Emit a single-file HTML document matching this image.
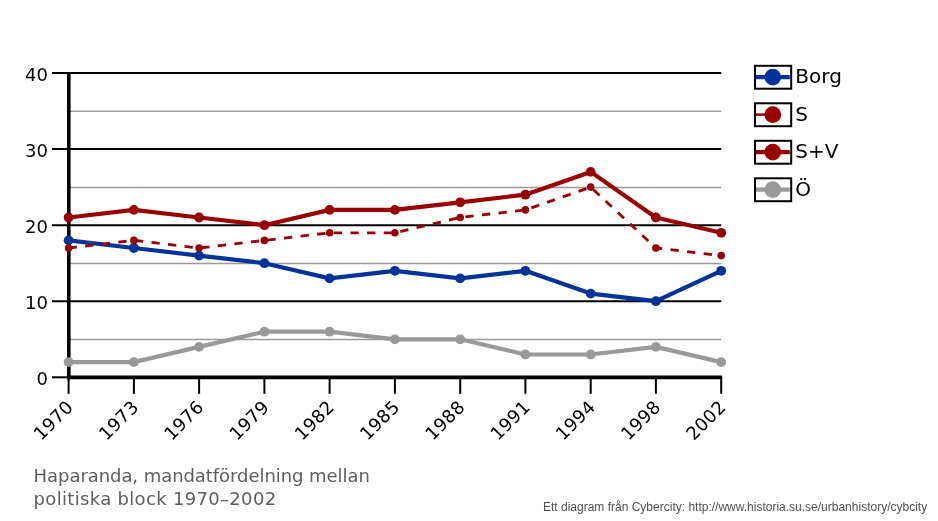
<!DOCTYPE html>
<html lang="sv"><head><meta charset="utf-8"><title>Haparanda, mandatfördelning mellan politiska block 1970–2002</title>
<style>
html,body{margin:0;padding:0;background:#fff;}
body{width:938px;height:521px;overflow:hidden;position:relative;}
svg{position:absolute;left:0;top:0;display:block;}
.ax{font-family:"DejaVu Sans","Liberation Sans",sans-serif;font-size:18px;fill:#000;}
.xl{letter-spacing:0.3px;}
.lg{font-family:"DejaVu Sans","Liberation Sans",sans-serif;font-size:20px;fill:#000;}
.ti{font-family:"DejaVu Sans","Liberation Sans",sans-serif;font-size:18px;fill:#5e5e60;}
.ft{font-family:"Liberation Sans",sans-serif;font-size:12px;fill:#505054;}
</style></head><body>
<svg width="938" height="521" viewBox="0 0 938 521">
<rect width="938" height="521" fill="#fff"/>

<line x1="68.6" y1="339.6" x2="721.2" y2="339.6" stroke="#999" stroke-width="1.5"/>
<line x1="68.6" y1="263.5" x2="721.2" y2="263.5" stroke="#999" stroke-width="1.5"/>
<line x1="68.6" y1="187.4" x2="721.2" y2="187.4" stroke="#999" stroke-width="1.5"/>
<line x1="68.6" y1="111.3" x2="721.2" y2="111.3" stroke="#999" stroke-width="1.5"/>
<line x1="52" y1="301.2" x2="721.2" y2="301.2" stroke="#000" stroke-width="2"/>
<line x1="52" y1="225.2" x2="721.2" y2="225.2" stroke="#000" stroke-width="2"/>
<line x1="52" y1="149.1" x2="721.2" y2="149.1" stroke="#000" stroke-width="2"/>
<line x1="52" y1="73.0" x2="721.2" y2="73.0" stroke="#000" stroke-width="2"/>
<line x1="52" y1="377.3" x2="68.6" y2="377.3" stroke="#000" stroke-width="2"/>
<line x1="68.8" y1="72" x2="68.8" y2="379.2" stroke="#000" stroke-width="3.6"/>
<line x1="67.0" y1="377.3" x2="722.2" y2="377.3" stroke="#000" stroke-width="3.8"/>
<line x1="68.6" y1="377.3" x2="68.6" y2="393.8" stroke="#000" stroke-width="2"/>
<line x1="133.9" y1="377.3" x2="133.9" y2="393.8" stroke="#000" stroke-width="2"/>
<line x1="199.1" y1="377.3" x2="199.1" y2="393.8" stroke="#000" stroke-width="2"/>
<line x1="264.4" y1="377.3" x2="264.4" y2="393.8" stroke="#000" stroke-width="2"/>
<line x1="329.6" y1="377.3" x2="329.6" y2="393.8" stroke="#000" stroke-width="2"/>
<line x1="394.9" y1="377.3" x2="394.9" y2="393.8" stroke="#000" stroke-width="2"/>
<line x1="460.2" y1="377.3" x2="460.2" y2="393.8" stroke="#000" stroke-width="2"/>
<line x1="525.4" y1="377.3" x2="525.4" y2="393.8" stroke="#000" stroke-width="2"/>
<line x1="590.7" y1="377.3" x2="590.7" y2="393.8" stroke="#000" stroke-width="2"/>
<line x1="655.9" y1="377.3" x2="655.9" y2="393.8" stroke="#000" stroke-width="2"/>
<line x1="721.2" y1="377.3" x2="721.2" y2="393.8" stroke="#000" stroke-width="2"/>
<text class="ax" x="48" y="385.3" text-anchor="end">0</text>
<text class="ax" x="48" y="309.2" text-anchor="end">10</text>
<text class="ax" x="48" y="233.2" text-anchor="end">20</text>
<text class="ax" x="48" y="157.1" text-anchor="end">30</text>
<text class="ax" x="48" y="81.0" text-anchor="end">40</text>
<text class="ax xl" text-anchor="end" transform="translate(74.4,408.1) rotate(-45)">1970</text>
<text class="ax xl" text-anchor="end" transform="translate(139.7,408.1) rotate(-45)">1973</text>
<text class="ax xl" text-anchor="end" transform="translate(204.9,408.1) rotate(-45)">1976</text>
<text class="ax xl" text-anchor="end" transform="translate(270.2,408.1) rotate(-45)">1979</text>
<text class="ax xl" text-anchor="end" transform="translate(335.4,408.1) rotate(-45)">1982</text>
<text class="ax xl" text-anchor="end" transform="translate(400.7,408.1) rotate(-45)">1985</text>
<text class="ax xl" text-anchor="end" transform="translate(466.0,408.1) rotate(-45)">1988</text>
<text class="ax xl" text-anchor="end" transform="translate(531.2,408.1) rotate(-45)">1991</text>
<text class="ax xl" text-anchor="end" transform="translate(596.5,408.1) rotate(-45)">1994</text>
<text class="ax xl" text-anchor="end" transform="translate(661.7,408.1) rotate(-45)">1998</text>
<text class="ax xl" text-anchor="end" transform="translate(727.0,408.1) rotate(-45)">2002</text>
<polyline points="68.6,240.4 133.9,248.0 199.1,255.6 264.4,263.2 329.6,278.4 394.9,270.8 460.2,278.4 525.4,270.8 590.7,293.6 655.9,301.2 721.2,270.8" fill="none" stroke="#003399" stroke-width="4.2" stroke-linejoin="round"/>
<circle cx="68.6" cy="240.4" r="4.9" fill="#003399"/>
<circle cx="133.9" cy="248.0" r="4.9" fill="#003399"/>
<circle cx="199.1" cy="255.6" r="4.9" fill="#003399"/>
<circle cx="264.4" cy="263.2" r="4.9" fill="#003399"/>
<circle cx="329.6" cy="278.4" r="4.9" fill="#003399"/>
<circle cx="394.9" cy="270.8" r="4.9" fill="#003399"/>
<circle cx="460.2" cy="278.4" r="4.9" fill="#003399"/>
<circle cx="525.4" cy="270.8" r="4.9" fill="#003399"/>
<circle cx="590.7" cy="293.6" r="4.9" fill="#003399"/>
<circle cx="655.9" cy="301.2" r="4.9" fill="#003399"/>
<circle cx="721.2" cy="270.8" r="4.9" fill="#003399"/>
<polyline points="68.6,248.0 133.9,240.4 199.1,248.0 264.4,240.4 329.6,232.8 394.9,232.8 460.2,217.5 525.4,209.9 590.7,187.1 655.9,248.0 721.2,255.6" fill="none" stroke="#990000" stroke-width="2.8" stroke-linejoin="round" stroke-dasharray="8.34 8.34"/>
<circle cx="68.6" cy="248.0" r="3.8" fill="#990000"/>
<circle cx="133.9" cy="240.4" r="3.8" fill="#990000"/>
<circle cx="199.1" cy="248.0" r="3.8" fill="#990000"/>
<circle cx="264.4" cy="240.4" r="3.8" fill="#990000"/>
<circle cx="329.6" cy="232.8" r="3.8" fill="#990000"/>
<circle cx="394.9" cy="232.8" r="3.8" fill="#990000"/>
<circle cx="460.2" cy="217.5" r="3.8" fill="#990000"/>
<circle cx="525.4" cy="209.9" r="3.8" fill="#990000"/>
<circle cx="590.7" cy="187.1" r="3.8" fill="#990000"/>
<circle cx="655.9" cy="248.0" r="3.8" fill="#990000"/>
<circle cx="721.2" cy="255.6" r="3.8" fill="#990000"/>
<polyline points="68.6,217.5 133.9,209.9 199.1,217.5 264.4,225.2 329.6,209.9 394.9,209.9 460.2,202.3 525.4,194.7 590.7,171.9 655.9,217.5 721.2,232.8" fill="none" stroke="#990000" stroke-width="4.2" stroke-linejoin="round"/>
<circle cx="68.6" cy="217.5" r="4.9" fill="#990000"/>
<circle cx="133.9" cy="209.9" r="4.9" fill="#990000"/>
<circle cx="199.1" cy="217.5" r="4.9" fill="#990000"/>
<circle cx="264.4" cy="225.2" r="4.9" fill="#990000"/>
<circle cx="329.6" cy="209.9" r="4.9" fill="#990000"/>
<circle cx="394.9" cy="209.9" r="4.9" fill="#990000"/>
<circle cx="460.2" cy="202.3" r="4.9" fill="#990000"/>
<circle cx="525.4" cy="194.7" r="4.9" fill="#990000"/>
<circle cx="590.7" cy="171.9" r="4.9" fill="#990000"/>
<circle cx="655.9" cy="217.5" r="4.9" fill="#990000"/>
<circle cx="721.2" cy="232.8" r="4.9" fill="#990000"/>
<polyline points="68.6,362.1 133.9,362.1 199.1,346.9 264.4,331.7 329.6,331.7 394.9,339.3 460.2,339.3 525.4,354.5 590.7,354.5 655.9,346.9 721.2,362.1" fill="none" stroke="#999999" stroke-width="4.2" stroke-linejoin="round"/>
<circle cx="68.6" cy="362.1" r="4.9" fill="#999999"/>
<circle cx="133.9" cy="362.1" r="4.9" fill="#999999"/>
<circle cx="199.1" cy="346.9" r="4.9" fill="#999999"/>
<circle cx="264.4" cy="331.7" r="4.9" fill="#999999"/>
<circle cx="329.6" cy="331.7" r="4.9" fill="#999999"/>
<circle cx="394.9" cy="339.3" r="4.9" fill="#999999"/>
<circle cx="460.2" cy="339.3" r="4.9" fill="#999999"/>
<circle cx="525.4" cy="354.5" r="4.9" fill="#999999"/>
<circle cx="590.7" cy="354.5" r="4.9" fill="#999999"/>
<circle cx="655.9" cy="346.9" r="4.9" fill="#999999"/>
<circle cx="721.2" cy="362.1" r="4.9" fill="#999999"/>
<line x1="755" y1="77.1" x2="789.8" y2="77.1" stroke="#003399" stroke-width="4.2"/>
<circle cx="772.8" cy="77.1" r="8.35" fill="#003399"/>
<rect x="755" y="65.8" width="36.2" height="22.9" fill="none" stroke="#000" stroke-width="2"/>
<text class="lg" x="795.3" y="83.0">Borg</text>
<line x1="756" y1="114.6" x2="766" y2="114.6" stroke="#990000" stroke-width="2.5"/>
<circle cx="772.8" cy="114.6" r="8.35" fill="#990000"/>
<rect x="755" y="103.3" width="36.2" height="22.9" fill="none" stroke="#000" stroke-width="2"/>
<text class="lg" x="795.3" y="120.5">S</text>
<line x1="755" y1="152.1" x2="789.8" y2="152.1" stroke="#990000" stroke-width="4.2"/>
<circle cx="772.8" cy="152.1" r="8.35" fill="#990000"/>
<rect x="755" y="140.8" width="36.2" height="22.9" fill="none" stroke="#000" stroke-width="2"/>
<text class="lg" x="795.3" y="158.0">S+V</text>
<line x1="755" y1="189.6" x2="789.8" y2="189.6" stroke="#999999" stroke-width="4.2"/>
<circle cx="772.8" cy="189.6" r="8.35" fill="#999999"/>
<rect x="755" y="178.3" width="36.2" height="22.9" fill="none" stroke="#000" stroke-width="2"/>
<text class="lg" x="795.3" y="195.5">Ö</text>
<text class="ti" x="33.6" y="481.9" style="letter-spacing:-0.06px">Haparanda, mandatfördelning mellan</text>
<text class="ti" x="33.6" y="505.1" style="letter-spacing:0.32px">politiska block 1970–2002</text>
<text class="ft" x="543" y="511.3">Ett diagram från Cybercity: http://www.historia.su.se/urbanhistory/cybcity</text>
</svg></body></html>
